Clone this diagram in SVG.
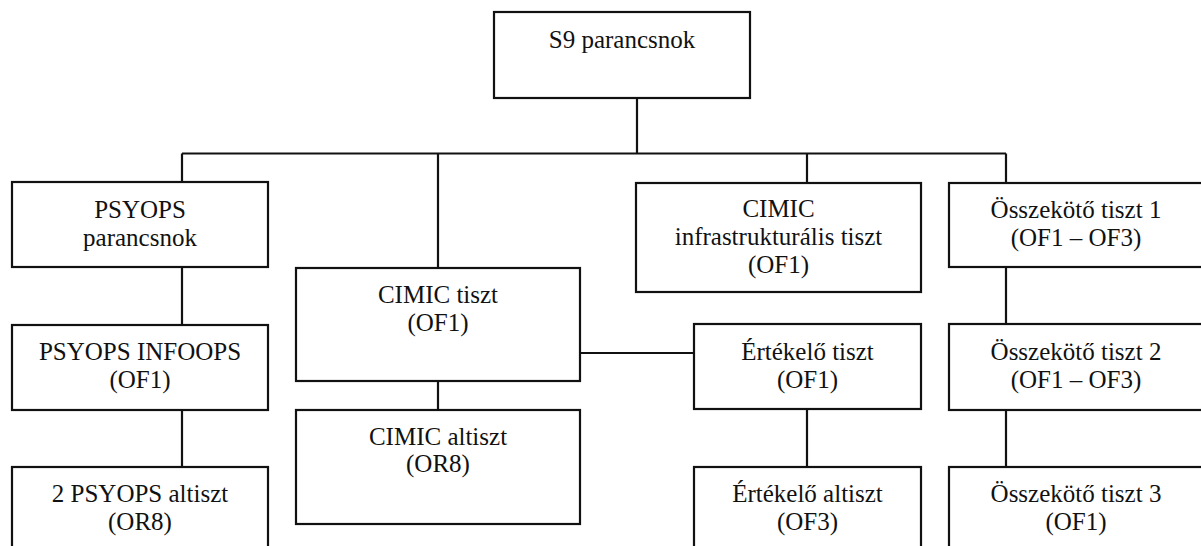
<svg xmlns="http://www.w3.org/2000/svg" width="1201" height="546" viewBox="0 0 1201 546">
<style>
.box{fill:#fff;stroke:#111;stroke-width:2.2}
.ln{fill:none;stroke:#111;stroke-width:2.2}
text{font-size:25px;fill:#111;text-anchor:middle;font-family:'Liberation Serif','Tinos','Times New Roman','DejaVu Serif',serif}
</style>
<rect width="1201" height="546" fill="#fff"/>
<g id="connectors">
<path class="ln" d="M637 98V153.5M182 153.5H1006M182 153.5V182M438 153.5V268M807 153.5V183M1006 153.5V183"/>
<path class="ln" d="M182 267V325M182 410V467"/>
<path class="ln" d="M438 381V410M580 353H694M807 409V467"/>
<path class="ln" d="M1006 267V324M1006 410V467"/>
</g>
<g id="s9"><rect class="box" x="494" y="12" width="256" height="86"/><text x="622" y="48">S9 parancsnok</text></g>
<g id="psyops-cmd"><rect class="box" x="12" y="182" width="256" height="85"/><text x="140" y="218">PSYOPS</text><text x="140" y="246">parancsnok</text></g>
<g id="psyops-infoops"><rect class="box" x="12" y="325" width="256" height="85"/><text x="140" y="360">PSYOPS INFOOPS</text><text x="140" y="388">(OF1)</text></g>
<g id="psyops-altiszt"><rect class="box" x="12" y="467" width="256" height="90"/><text x="140" y="502">2 PSYOPS altiszt</text><text x="140" y="530">(OR8)</text></g>
<g id="cimic-tiszt"><rect class="box" x="296" y="268" width="284" height="113"/><text x="438" y="303">CIMIC tiszt</text><text x="438" y="331">(OF1)</text></g>
<g id="cimic-altiszt"><rect class="box" x="296" y="410" width="284" height="114"/><text x="438" y="445">CIMIC altiszt</text><text x="438" y="472">(OR8)</text></g>
<g id="cimic-infra"><rect class="box" x="636" y="183" width="285" height="109"/><text x="778.5" y="217">CIMIC</text><text x="778.5" y="245">infrastrukturális tiszt</text><text x="778.5" y="273">(OF1)</text></g>
<g id="ertekelo-tiszt"><rect class="box" x="694" y="324" width="227" height="85"/><text x="807.5" y="360">Értékelő tiszt</text><text x="807.5" y="388">(OF1)</text></g>
<g id="ertekelo-altiszt"><rect class="box" x="694" y="467" width="227" height="90"/><text x="807.5" y="502">Értékelő altiszt</text><text x="807.5" y="530">(OF3)</text></g>
<g id="osszekoto-1"><rect class="box" x="949" y="183" width="254" height="84"/><text x="1076" y="218">Összekötő tiszt 1</text><text x="1076" y="246">(OF1 – OF3)</text></g>
<g id="osszekoto-2"><rect class="box" x="949" y="324" width="254" height="86"/><text x="1076" y="360">Összekötő tiszt 2</text><text x="1076" y="388">(OF1 – OF3)</text></g>
<g id="osszekoto-3"><rect class="box" x="949" y="467" width="254" height="90"/><text x="1076" y="502">Összekötő tiszt 3</text><text x="1076" y="530">(OF1)</text></g>
</svg>
